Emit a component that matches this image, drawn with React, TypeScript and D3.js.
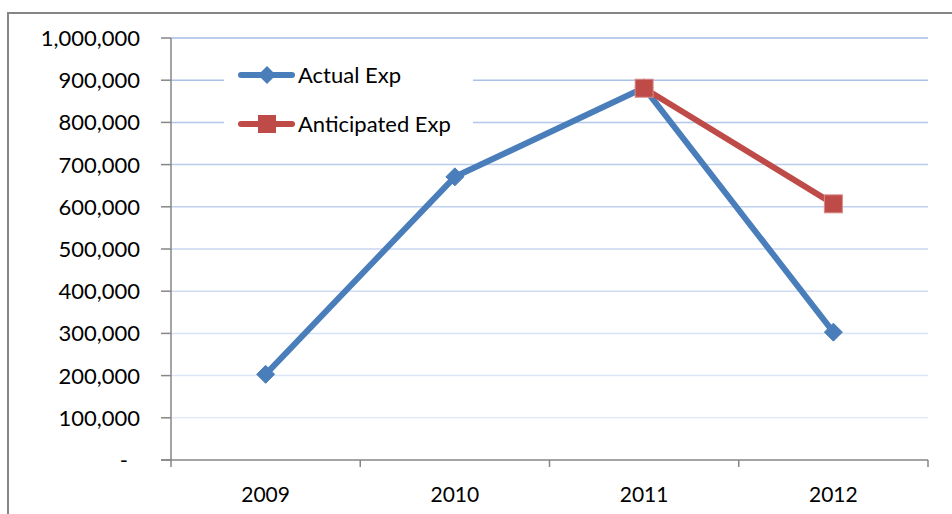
import React from "react";
import * as d3 from "d3";

const years = ["2009", "2010", "2011", "2012"];
const actualExp = [203000, 671000, 882000, 303000];
const anticipatedExp: (number | null)[] = [null, null, 881000, 607000];
const yTicks = [0, 100000, 200000, 300000, 400000, 500000, 600000, 700000, 800000, 900000, 1000000];
const seriesNames = ["Actual Exp", "Anticipated Exp"];

const W = 952;
const H = 514;
const left = 171;
const right = 928;
const top = 38;
const bottom = 460;
const FONT = "Lato, 'Open Sans', sans-serif";
const BLUE = "#4a7ebb";
const RED = "#be4b48";
const AXIS = "#868686";

export default function App() {
  const x = d3.scaleBand<string>().domain(years).range([left, right]).padding(0);
  const y = d3.scaleLinear().domain([0, 1000000]).range([bottom, top]);
  const cx = (d: string) => (x(d) as number) + x.bandwidth() / 2;
  const fmt = d3.format(",");
  const gridColor = d3.interpolateRgb("#e3ebf9", "#a3bce7");

  const line = d3
    .line<[string, number | null]>()
    .defined((d) => d[1] !== null)
    .x((d) => cx(d[0]))
    .y((d) => y(d[1] as number));

  const actualPts = years.map((yr, i) => [yr, actualExp[i]] as [string, number | null]);
  const antPts = years.map((yr, i) => [yr, anticipatedExp[i]] as [string, number | null]);

  const diamond = (px: number, py: number, r: number) =>
    `M${px},${py - r}L${px + r},${py}L${px},${py + r}L${px - r},${py}Z`;

  const legendX = 241;
  const legendY = [75, 124];

  return (
    <svg
      width={W}
      height={H}
      style={{ position: "absolute", left: 0, top: 0, background: "#fff" }}
      fontFamily={FONT}
    >
      <rect x={8} y={13} width={W + 20} height={H + 20} fill="#fff" stroke={AXIS} strokeWidth={2} />
      {/* gridlines */}
      {yTicks
        .filter((t) => t > 0)
        .map((t, i) => (
          <line
            key={t}
            x1={left}
            x2={right}
            y1={y(t)}
            y2={y(t)}
            stroke={gridColor(i / (yTicks.length - 2))}
            strokeWidth={1.5}
          />
        ))}
      {/* legend background */}
      <rect x={224} y={47} width={249} height={106} fill="#fff" />
      {/* y axis */}
      <line x1={left} x2={left} y1={top} y2={bottom} stroke={AXIS} strokeWidth={1.5} />
      {yTicks.map((t) => (
        <g key={t}>
          <line x1={161} x2={left} y1={y(t)} y2={y(t)} stroke={AXIS} strokeWidth={1.5} />
          <text
            x={t === 0 ? 128 : 140}
            y={y(t) + 8}
            textAnchor="end"
            fontSize={22}
            fill="#000"
          >
            {t === 0 ? "-" : fmt(t)}
          </text>
        </g>
      ))}
      {/* x axis */}
      <line x1={161} x2={right} y1={bottom} y2={bottom} stroke={AXIS} strokeWidth={1.5} />
      {years.map((yr) => (
        <line key={"t" + yr} x1={x(yr)} x2={x(yr)} y1={bottom} y2={bottom + 7} stroke={AXIS} strokeWidth={1.5} />
      ))}
      <line x1={right} x2={right} y1={bottom} y2={bottom + 7} stroke={AXIS} strokeWidth={1.5} />
      {years.map((yr) => (
        <text key={"l" + yr} x={cx(yr)} y={502} textAnchor="middle" fontSize={21} fill="#000">
          {yr}
        </text>
      ))}
      {/* series */}
      <path d={line(actualPts) || ""} fill="none" stroke={BLUE} strokeWidth={6} strokeLinejoin="round" />
      {actualPts.map(([yr, v]) => (
        <path key={"d" + yr} d={diamond(cx(yr), y(v as number), 9)} fill={BLUE} stroke={BLUE} strokeWidth={1} strokeLinejoin="round" />
      ))}
      <path d={line(antPts) || ""} fill="none" stroke={RED} strokeWidth={6} strokeLinejoin="round" />
      {antPts
        .filter((d) => d[1] !== null)
        .map(([yr, v]) => (
          <rect
            key={"s" + yr}
            x={cx(yr) - 9}
            y={y(v as number) - 9}
            width={18}
            height={18}
            fill={RED}
            stroke="#d98c8a"
            strokeWidth={1}
          />
        ))}
      {/* legend */}
      <line x1={legendX} x2={legendX + 51} y1={legendY[0]} y2={legendY[0]} stroke={BLUE} strokeWidth={6} strokeLinecap="round" />
      <path d={diamond(legendX + 26, legendY[0], 9)} fill={BLUE} />
      <text x={298} y={legendY[0] + 8} fontSize={22} fill="#000">
        {seriesNames[0]}
      </text>
      <line x1={legendX} x2={legendX + 51} y1={legendY[1]} y2={legendY[1]} stroke={RED} strokeWidth={6} strokeLinecap="round" />
      <rect x={legendX + 17} y={legendY[1] - 9} width={18} height={18} fill={RED} />
      <text x={298} y={legendY[1] + 8} fontSize={22} fill="#000">
        {seriesNames[1]}
      </text>
    </svg>
  );
}
